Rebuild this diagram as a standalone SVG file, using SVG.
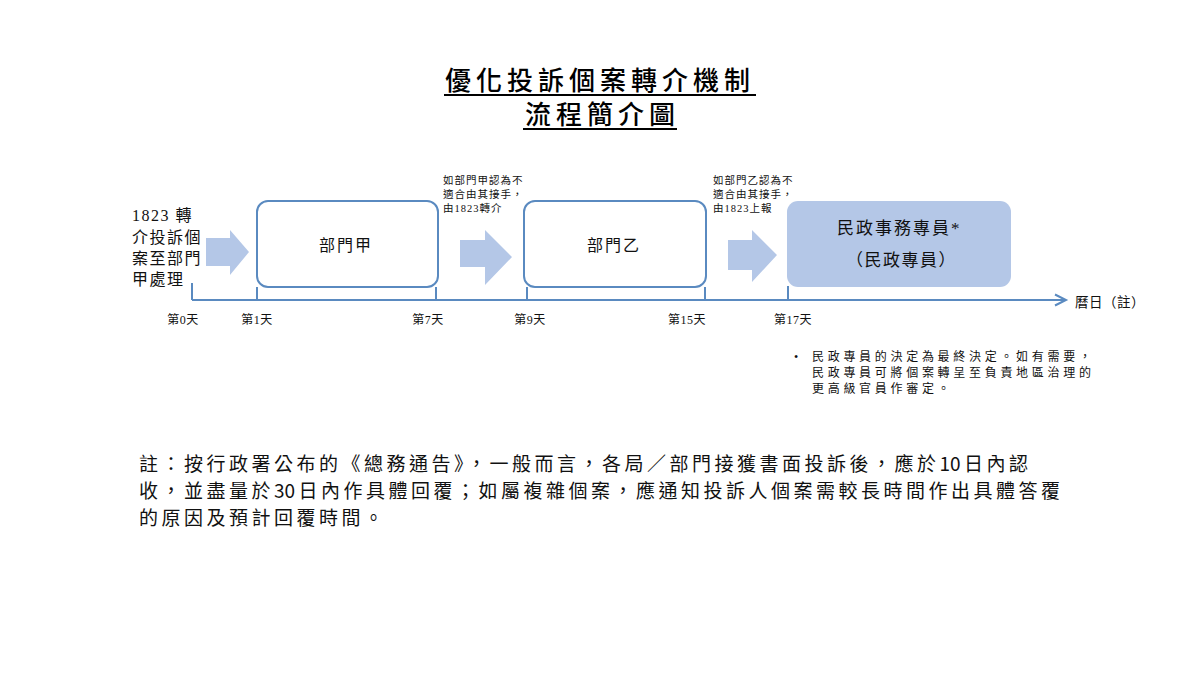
<svg xmlns="http://www.w3.org/2000/svg" width="1200" height="675" viewBox="0 0 1200 675">
  <style>
    .title { font-family: "Noto Sans CJK TC", sans-serif; font-size: 26px; font-weight: 500; letter-spacing: 5px; fill: #000; }
    .ul { stroke: #000; stroke-width: 2; }
    .ming { font-family: "Liberation Serif", "Noto Sans CJK TC", serif; fill: #111; }
    .left { font-size: 16px; letter-spacing: 1.5px; }
    .box { fill: #fff; stroke: #5a8ac0; stroke-width: 2; }
    .boxfill { fill: #b4c7e7; stroke: none; }
    .lbl { font-size: 16px; letter-spacing: 2px; }
    .note-s { font-size: 10.5px; letter-spacing: 1px; }
    .day { font-size: 12px; letter-spacing: 0.5px; text-anchor: middle; }
    .bul { font-size: 12px; letter-spacing: 3.7px; }
    .arrow { fill: #b4c7e7; }
    .axis { stroke: #5a8ac0; stroke-width: 2; fill: none; }
    .note { font-family: "Noto Sans CJK TC", sans-serif; font-size: 19px; letter-spacing: 3.5px; fill: #111; }
    .num { letter-spacing: 0; }
  </style>

  <rect width="1200" height="675" fill="#fff"/>

  <g id="title">
    <text class="title" x="445" y="90">優化投訴個案轉介機制</text>
    <line class="ul" x1="444" y1="95" x2="756" y2="95"/>
    <text class="title" x="525" y="124">流程簡介圖</text>
    <line class="ul" x1="523" y1="129" x2="677" y2="129"/>
  </g>

  <g id="start">
    <text class="ming left" x="132" y="221">1823 轉</text>
    <text class="ming left" x="132" y="243">介投訴個</text>
    <text class="ming left" x="132" y="264">案至部門</text>
    <text class="ming left" x="132" y="285">甲處理</text>
  </g>

  <g id="connectors">
    <polygon class="arrow" points="206,238 230,238 230,230 249,252 230,275 230,266 206,266"/>
    <polygon class="arrow" points="460,240 485,240 485,230 512,257 485,285 485,267 460,267"/>
    <polygon class="arrow" points="728,240 752,240 752,230 777,255 752,282 752,270 728,270"/>
    <line class="axis" x1="192" y1="300" x2="1065" y2="300"/>
    <polyline class="axis" points="1055,294.5 1066,300 1055,305.5"/>
    <line class="axis" x1="192" y1="283" x2="192" y2="300"/>
    <line class="axis" x1="257" y1="287" x2="257" y2="300"/>
    <line class="axis" x1="436" y1="287" x2="436" y2="300"/>
    <line class="axis" x1="527" y1="287" x2="527" y2="300"/>
    <line class="axis" x1="705" y1="287" x2="705" y2="300"/>
    <line class="axis" x1="788" y1="286" x2="788" y2="300"/>
  </g>

  <g id="dept-a">
    <rect class="box" x="257" y="201" width="181" height="86" rx="11"/>
    <text class="ming lbl" x="319" y="251">部門甲</text>
  </g>

  <g id="note-a">
    <text class="ming note-s" x="443" y="184">如部門甲認為不</text>
    <text class="ming note-s" x="443" y="198">適合由其接手，</text>
    <text class="ming note-s" x="443" y="212">由1823轉介</text>
  </g>

  <g id="dept-b">
    <rect class="box" x="524" y="201" width="182" height="86" rx="11"/>
    <text class="ming lbl" x="587" y="251">部門乙</text>
  </g>

  <g id="note-b">
    <text class="ming note-s" x="713" y="184">如部門乙認為不</text>
    <text class="ming note-s" x="713" y="198">適合由其接手，</text>
    <text class="ming note-s" x="713" y="212">由1823上報</text>
  </g>

  <g id="dao">
    <rect class="boxfill" x="787" y="201" width="224" height="86" rx="11"/>
    <text class="ming" x="837" y="234" font-size="17" letter-spacing="2">民政事務專員*</text>
    <text class="ming" x="846" y="266" font-size="17" letter-spacing="1.5">（民政專員）</text>
  </g>

  <g id="days">
    <text class="ming day" x="183" y="324">第0天</text>
    <text class="ming day" x="257" y="324">第1天</text>
    <text class="ming day" x="428" y="324">第7天</text>
    <text class="ming day" x="530" y="324">第9天</text>
    <text class="ming day" x="687" y="324">第15天</text>
    <text class="ming day" x="793" y="324">第17天</text>
    <text class="ming" x="1075" y="307" font-size="13.5" letter-spacing="0.5">曆日（註）</text>
  </g>

  <g id="bullet">
    <text class="ming" x="794" y="361" font-size="12">•</text>
    <text class="ming bul" x="812" y="361">民政專員的決定為最終決定。如有需要，</text>
    <text class="ming bul" x="812" y="377">民政專員可將個案轉呈至負責地區治理的</text>
    <text class="ming bul" x="812" y="393">更高級官員作審定。</text>
  </g>

  <g id="footnote">
    <text class="note" x="139" y="471">註：按行政署公布的《總務通告》，一般而言，各局／部門接獲書面投訴後，應於<tspan class="num">1</tspan>0日內認</text>
    <text class="note" x="139" y="498">收，並盡量於<tspan class="num">3</tspan>0日內作具體回覆；如屬複雜個案，應通知投訴人個案需較長時間作出具體答覆</text>
    <text class="note" x="139" y="525">的原因及預計回覆時間。</text>
  </g>
</svg>
